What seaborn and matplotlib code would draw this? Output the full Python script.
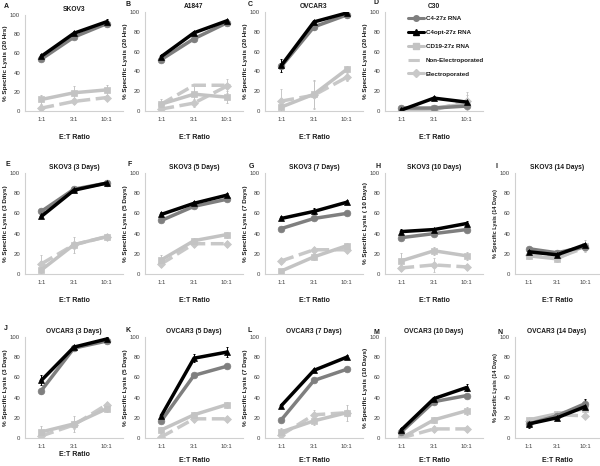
import numpy as np
import pandas as pd
import matplotlib
matplotlib.use("Agg")
import matplotlib.pyplot as plt
import seaborn as sns
from matplotlib.lines import Line2D

sns.set_style("white")
plt.rcParams["font.family"] = ["Liberation Sans", "DejaVu Sans"]

ratios = ["1:1", "3:1", "10:1"]
panel_letters = list("ABCDEFGHIJKLMN")
titles = ["SKOV3", "A1847", "OVCAR3", "C30",
          "SKOV3 (3 Days)", "SKOV3 (5 Days)", "SKOV3 (7 Days)", "SKOV3 (10 Days)", "SKOV3 (14 Days)",
          "OVCAR3 (3 Days)", "OVCAR3 (5 Days)", "OVCAR3 (7 Days)", "OVCAR3 (10 Days)", "OVCAR3 (14 Days)"]
ylabels = ["% Specific Lysis (20 Hrs)"] * 4 + [
    "% Specific Lysis (3 Days)", "% Specific Lysis (5 Days)", "% Specific Lysis (7 Days)",
    "% Specific Lysis ( 10 Days)", "% Specific Lysis (14 Days)",
    "% Specific Lysis (3 Days)", "% Specific Lysis (5 Days)", "% Specific Lysis (7 Days)",
    "% Specific Lysis (10 Days)", "% Specific Lysis (14 Days)"]
series_names = ["C4-27z RNA", "C4opt-27z RNA", "CD19-27z RNA", "Non-Electroporated", "Electroporated"]

c4_27z = [[54, 77, 91], [52, 73, 89], [45, 85, 97], [3, 3, 5],
          [62, 84, 90], [53, 67, 74], [45, 55, 60], [36, 40, 44], [25, 21, 27],
          [47, 89, 96], [17, 62, 71], [18, 57, 68], [6, 36, 42], [14, 22, 34]]
c4opt_27z = [[57, 81, 93], [55, 79, 91], [46, 90, 99], [1, 13, 9],
             [57, 83, 90], [59, 70, 78], [55, 62, 71], [42, 44, 50], [22, 19, 29],
             [57, 90, 98], [22, 79, 85], [32, 67, 80], [8, 39, 50], [14, 20, 31]]
cd19_27z = [[12, 19, 22], [7, 17, 14], [4, 17, 42], [0, 3, 7],
            [4, 29, 37], [14, 33, 39], [3, 17, 28], [13, 23, 18], [18, 15, 28],
            [6, 14, 29], [8, 23, 33], [6, 17, 25], [0, 18, 27], [18, 24, 29]]
non_electro = [None, [7, 26, 26], None, None,
               None, None, None, None, None,
               None, None, None, None, None]
electro = [[3, 10, 14], [2, 8, 25], [10, 16, 34], [0, 1, 10],
           [10, 29, 37], [10, 30, 30], [13, 24, 24], [6, 9, 7], [19, 16, 26],
           [2, 13, 33], [1, 19, 19], [3, 23, 25], [0, 9, 9], [17, 23, 22]]

err_c4_27z = [[2, 2, 2], [2, 3, 2], [3, 3, 3], [2, 2, 2],
              [2, 2, 2], [2, 2, 2], [2, 2, 2], [2, 2, 2], [2, 2, 2],
              [3, 2, 2], [2, 2, 2], [2, 2, 2], [2, 2, 2], [3, 2, 4]]
err_c4opt_27z = [[2, 2, 3], [2, 2, 2], [7, 2, 2], [2, 2, 2],
                 [2, 2, 2], [2, 2, 2], [2, 3, 2], [3, 2, 2], [2, 2, 2],
                 [5, 2, 2], [2, 4, 5], [2, 2, 2], [2, 2, 3], [4, 2, 8]]
err_cd19_27z = [[5, 7, 5], [5, 8, 6], [5, 14, 3], [5, 2, 9],
                [9, 8, 3], [5, 3, 3], [2, 3, 3], [8, 4, 4], [3, 3, 6],
                [6, 8, 3], [3, 3, 3], [4, 4, 8], [2, 3, 4], [2, 2, 4]]
err_electro = [[3, 3, 3], [4, 4, 7], [12, 14, 4], [2, 2, 9],
               [9, 4, 3], [3, 3, 3], [3, 3, 3], [3, 7, 3], [3, 3, 3],
               [3, 4, 3], [2, 3, 3], [3, 5, 3], [2, 3, 3], [2, 2, 2]]

series_values = [c4_27z, c4opt_27z, cd19_27z, non_electro, electro]
series_errors = [err_c4_27z, err_c4opt_27z, err_cd19_27z, None, err_electro]
series_colors = ["#7f7f7f", "#000000", "#c3c3c3", "#c8c8c8", "#c8c8c8"]
series_markers = ["o", "^", "s", "_", "D"]
series_ls = ["-", "-", "-", "--", "--"]
draw_order = [3, 4, 2, 0, 1]

W, H = 600, 466
fig = plt.figure(figsize=(W / 100, H / 100), dpi=100)

col_left = [25, 145, 265, 385, 515]
col_w = [98, 98, 98, 98, 84]
row_top = [12, 173, 337]
row_bot = [111, 274, 438]
xlabel_pad = [9, 9, 6]
letter_xy = [(4, 7), (126, 5), (248, 5), (374, 3),
             (5, 165), (127, 165), (249, 167), (375, 167), (496, 166),
             (4, 328), (126, 330), (248, 330), (373, 332), (497, 333)]

x_pos = np.arange(len(ratios))
tick_color = "#404040"
spine_color = "#d0d0d0"
text_color = "#1a1a1a"

for i in range(len(titles)):
    if i < 4:
        r, c = 0, i
    else:
        r, c = (i - 4) // 5 + 1, (i - 4) % 5
    top = row_top[r] + (3 if i == 0 else 0)
    bot = row_bot[r]
    ax = fig.add_axes([col_left[c] / W, 1 - bot / H, col_w[c] / W, (bot - top) / H])
    for s in draw_order:
        vals = series_values[s][i]
        if vals is None:
            continue
        df = pd.DataFrame({"x": x_pos, "y": vals})
        errs = series_errors[s]
        if errs is not None:
            ax.errorbar(df["x"], df["y"], yerr=errs[i], fmt="none",
                        ecolor=series_colors[s], elinewidth=0.7, capsize=1, capthick=0.7, zorder=1)
        sns.lineplot(data=df, x="x", y="y", ax=ax, color=series_colors[s],
                     linestyle=series_ls[s], linewidth=2.5, marker=series_markers[s],
                     markersize=4.8 if series_markers[s] != "D" else 4.2,
                     markeredgewidth=0.5 if series_markers[s] != "_" else 2,
                     markeredgecolor=series_colors[s], sort=False, zorder=2)
    ax.set_xlim(-0.5, 2.5)
    ax.set_ylim(0, 100)
    ax.set_yticks(np.arange(0, 101, 20))
    ax.set_xticks(x_pos)
    ax.set_xticklabels(ratios)
    ax.tick_params(axis="both", labelsize=4.3, colors=tick_color, pad=1.5)
    ax.tick_params(axis="x", length=0, pad=4)
    ax.tick_params(axis="y", length=2, width=0.5, color=spine_color, direction="out")
    for sp in ["top", "right"]:
        ax.spines[sp].set_visible(False)
    for sp in ["left", "bottom"]:
        ax.spines[sp].set_color(spine_color)
        ax.spines[sp].set_linewidth(0.8)
    ax.set_title(titles[i], fontsize=4.8, fontweight="bold", pad=3, color=text_color)
    ax.set_ylabel(ylabels[i], fontsize=4.6 if c < 4 else 4.0, fontweight="bold",
                  labelpad=1.5, color=text_color)
    ax.set_xlabel("E:T Ratio", fontsize=5, fontweight="bold", color=text_color,
                  labelpad=2 if i == 9 else xlabel_pad[r])
    lx, ly = letter_xy[i]
    fig.text(lx / W, 1 - ly / H, panel_letters[i], fontsize=5, fontweight="bold",
             ha="left", va="center", color=text_color)
    if i == 3:
        handles = []
        for s in range(5):
            handles.append(Line2D([0], [0], color=series_colors[s],
                                  linestyle="--" if s == 3 else "-",
                                  linewidth=2.2, marker=series_markers[s] if s != 3 else None,
                                  markersize=4, markeredgecolor=series_colors[s]))
        leg = ax.legend(handles, series_names, loc="upper left",
                        bbox_to_anchor=(408 / W, 1 - 16 / H), bbox_transform=fig.transFigure,
                        frameon=False, fontsize=4.5, handlelength=2.6,
                        handletextpad=0.2, labelspacing=1.35, borderpad=0, borderaxespad=0)
        for t in leg.get_texts():
            t.set_fontweight("bold")
            t.set_color(text_color)

fig.savefig("out.png", dpi=100)
